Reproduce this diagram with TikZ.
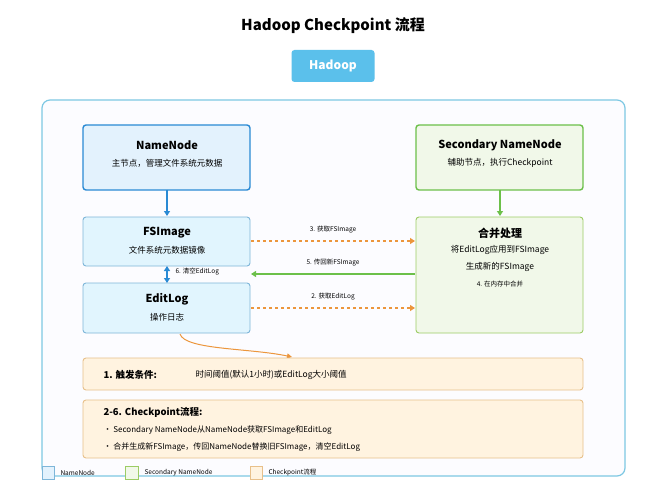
\documentclass[tikz,border=0pt]{standalone}
\usepackage{fontspec}
\setmainfont{Noto Sans CJK SC}
\usetikzlibrary{arrows.meta}
\definecolor{nnblue}{RGB}{42,138,212}
\definecolor{nnfill}{RGB}{227,242,253}
\definecolor{fsline}{RGB}{126,182,217}
\definecolor{fsfill}{RGB}{225,245,254}
\definecolor{sngreen}{RGB}{108,192,74}
\definecolor{snfill}{RGB}{241,248,233}
\definecolor{mgline}{RGB}{156,204,101}
\definecolor{cporange}{RGB}{236,150,60}
\definecolor{cpfill}{RGB}{255,243,224}
\definecolor{cpline}{RGB}{232,192,138}
\definecolor{frame}{RGB}{126,200,227}
\definecolor{badge}{RGB}{91,192,235}
\tikzset{
  box/.style={rounded corners=3pt,line width=0.9pt,anchor=north west,inner sep=0pt},
  ttl/.style={font=\bfseries\fontsize{11}{13}\selectfont},
  sub/.style={font=\fontsize{8.5}{10}\selectfont},
  lbl/.style={font=\fontsize{6.5}{8}\selectfont},
}
\begin{document}
\begin{tikzpicture}[x=1pt,y=1pt,yscale=-1]
\useasboundingbox[fill=white] (0,0) rectangle (667,500);

% title and badge
\node (title) at (333,26) {\bfseries\fontsize{15}{18}\selectfont Hadoop Checkpoint 流程};
\node (badge) [fill=badge,rounded corners=3pt,minimum width=83pt,minimum height=32pt,text=white]
  at (333,66) {\bfseries\fontsize{12}{14}\selectfont Hadoop};

% outer frame
\draw [frame,line width=1.2pt,fill=blue!1,rounded corners=8pt] (42,100) rectangle (625,476);

% upper boxes
\draw [box,draw=nnblue,fill=nnfill,line width=1.4pt] (83,125) rectangle (250,190);
\node (nn) at (167,145) [ttl] {NameNode};
\node (nnsub) at (167,163) [sub] {主节点，管理文件系统元数据};
\draw [box,draw=sngreen,fill=snfill,line width=1.4pt] (416,125) rectangle (583,190);
\node (sn) at (500,145) [ttl] {Secondary NameNode};
\node (snsub) at (500,163) [sub] {辅助节点，执行Checkpoint};

% lower boxes
\draw [box,draw=fsline,fill=fsfill] (83,217) rectangle (250,266);
\node (fs) at (167,233) [ttl] {FSImage};
\node (fssub) at (167,250) [sub] {文件系统元数据镜像};
\draw [box,draw=fsline,fill=fsfill] (83,283) rectangle (250,333);
\node (el) at (167,299) [ttl] {EditLog};
\node (elsub) at (167,317) [sub] {操作日志};
\draw [box,draw=mgline,fill=snfill] (416,217) rectangle (583,333);
\node (mg) at (500,233) [ttl] {合并处理};
\node (mg1) at (500,250) [sub] {将EditLog应用到FSImage};
\node (mg2) at (500,267) [sub] {生成新的FSImage};
\node (mg3) at (500,284) [lbl] {4. 在内存中合并};

% connectors
\draw [nnblue,line width=1.3pt,-{Triangle[length=5pt,width=6pt]}] (167,190) -- (167,216);
\draw [sngreen,line width=1.3pt,-{Triangle[length=5pt,width=6pt]}] (500,190) -- (500,216);
\draw [cporange,line width=1.1pt,dashed,-{Triangle[length=5pt,width=6pt]}] (251,241) -- (415,241);
\node (l3) at (333,230) [lbl] {3. 获取FSImage};
\draw [sngreen,line width=1.1pt,-{Triangle[length=5pt,width=6pt]}] (415,274) -- (251,274);
\node (l5) at (333,263) [lbl] {5. 传回新FSImage};
\draw [cporange,line width=1.1pt,dashed,-{Triangle[length=5pt,width=6pt]}] (251,308) -- (415,308);
\node (l2) at (333,297) [lbl] {2. 获取EditLog};
\draw [nnblue,line width=1.3pt,{Triangle[length=5pt,width=6pt]}-{Triangle[length=5pt,width=6pt]}] (167,266) -- (167,283);
\node (l6) at (172,272) [lbl,anchor=west] {6. 清空EditLog};
\draw [cporange,line width=1pt,-{Triangle[length=5pt,width=5pt]}] (180,334) .. controls (185,350) and (250,348) .. (292,357);

% notes
\draw [box,draw=cpline,fill=cpfill] (83,358) rectangle (583,390);
\node (n1) at (100,375) [anchor=west,font=\bfseries\fontsize{9.5}{11}\selectfont] {1. 触发条件:};
\node (n1t) at (192,375) [anchor=west,sub] {时间阈值(默认1小时)或EditLog大小阈值};
\draw [box,draw=cpline,fill=cpfill] (83,400) rectangle (583,458);
\node (n2) at (100,412) [anchor=west,font=\bfseries\fontsize{9.5}{11}\selectfont] {2-6. Checkpoint流程:};
\node (n2a) at (100,430) [anchor=west,font=\fontsize{8}{10}\selectfont] {• Secondary NameNode从NameNode获取FSImage和EditLog};
\node (n2b) at (100,447) [anchor=west,font=\fontsize{8}{10}\selectfont] {• 合并生成新FSImage，传回NameNode替换旧FSImage，清空EditLog};

% legend
\draw [fsline,fill=nnfill] (42,466) rectangle (54,479);
\node (lg1) at (57,473) [anchor=west,lbl] {NameNode};
\draw [mgline,fill=snfill] (125,466) rectangle (138,479);
\node (lg2) at (141,473) [anchor=west,lbl] {Secondary NameNode};
\draw [cpline,fill=cpfill] (250,466) rectangle (262,479);
\node (lg3) at (265,473) [anchor=west,lbl] {Checkpoint流程};
\end{tikzpicture}
\end{document}
